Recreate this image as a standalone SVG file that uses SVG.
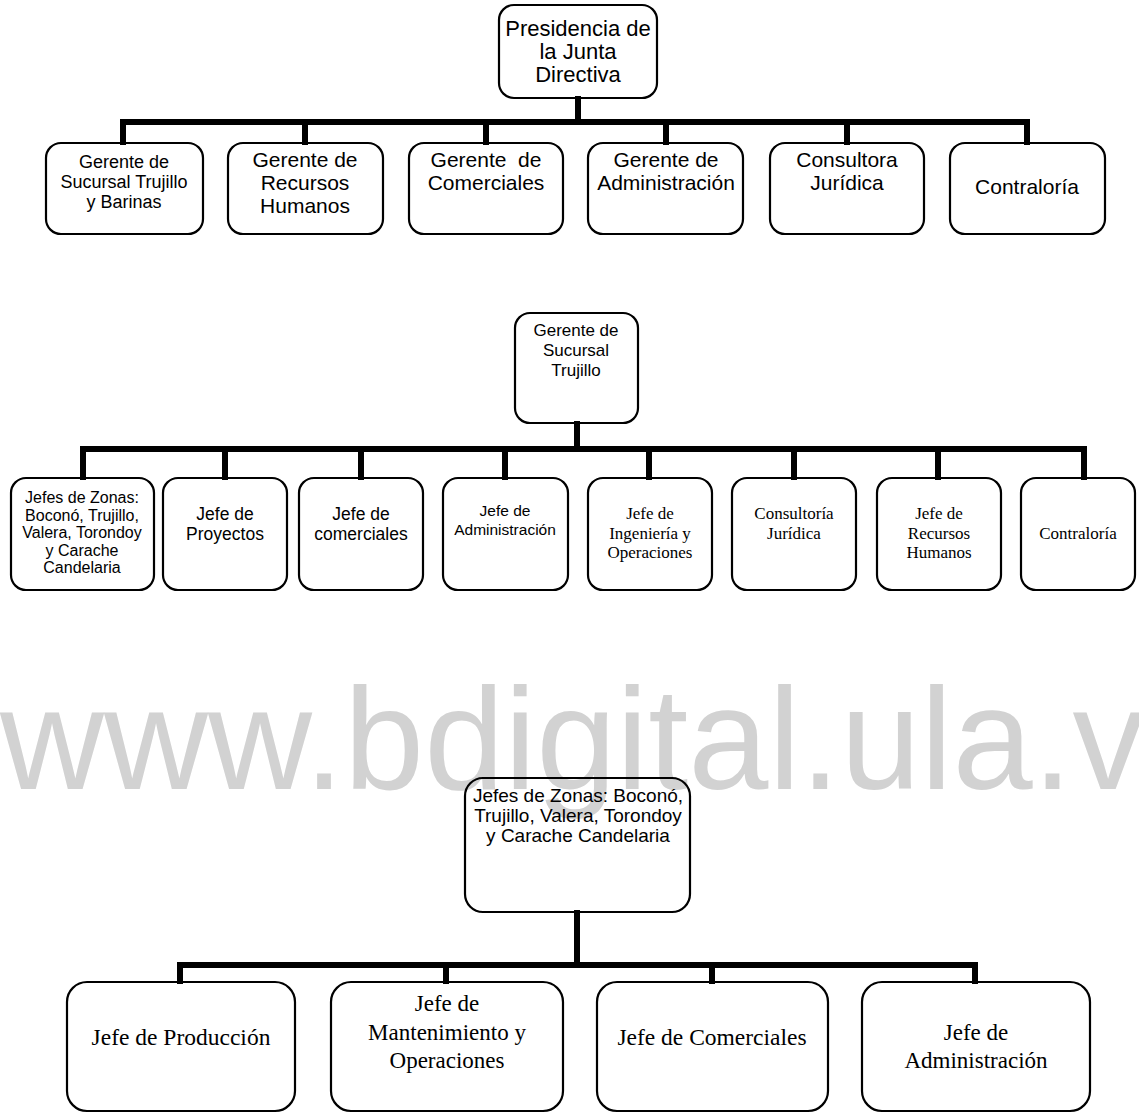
<svg xmlns="http://www.w3.org/2000/svg" width="1139" height="1115" viewBox="0 0 1139 1115">
<style>
.box{fill:none;stroke:#000;stroke-width:2.2}
.s{font-family:"Liberation Sans",Arial,sans-serif;fill:#000;text-anchor:middle}
.r{font-family:"Liberation Serif","Times New Roman",serif;fill:#000;text-anchor:middle}
.c{fill:none;stroke:#000;stroke-width:6;stroke-linecap:square}
.wm{font-family:"Liberation Sans",Arial,sans-serif;fill:#d2d2d2;font-size:144px}
</style>
<rect width="1139" height="1115" fill="#fff"/>
<text class="wm" x="0" y="789">www.bdigital.ula.v</text>

<g id="connectors">
  <path class="c" d="M578 99V122M123 122H1027M123 122V142M305 122V142M486 122V142M666 122V142M847 122V142M1027 122V142"/>
  <path class="c" d="M577 424V449M83 449H1084M83 449V477M225 449V477M361 449V477M505 449V477M649 449V477M794 449V477M938 449V477M1084 449V477"/>
  <path class="c" d="M577 913V965M180 965H975M180 965V981M446 965V981M712 965V981M975 965V981"/>
</g>

<g id="n-presidencia"><rect class="box" x="499" y="5" width="158" height="93" rx="15"/>
<text class="s" font-size="22"><tspan x="578" y="36">Presidencia de</tspan><tspan x="578" y="59">la Junta</tspan><tspan x="578" y="82">Directiva</tspan></text></g>

<g id="n-g-sucursal"><rect class="box" x="46" y="143" width="157" height="91" rx="15"/>
<text class="s" font-size="18"><tspan x="124" y="168">Gerente de</tspan><tspan x="124" y="188">Sucursal Trujillo</tspan><tspan x="124" y="208">y Barinas</tspan></text></g>
<g id="n-g-rrhh"><rect class="box" x="228" y="143" width="155" height="91" rx="15"/>
<text class="s" font-size="21"><tspan x="305" y="167">Gerente de</tspan><tspan x="305" y="190">Recursos</tspan><tspan x="305" y="213">Humanos</tspan></text></g>
<g id="n-g-comerciales"><rect class="box" x="409" y="143" width="154" height="91" rx="15"/>
<text class="s" font-size="21"><tspan x="486" y="167" xml:space="preserve">Gerente  de</tspan><tspan x="486" y="190">Comerciales</tspan></text></g>
<g id="n-g-admin"><rect class="box" x="588" y="143" width="155" height="91" rx="15"/>
<text class="s" font-size="21"><tspan x="666" y="167">Gerente de</tspan><tspan x="666" y="190">Administración</tspan></text></g>
<g id="n-consultora"><rect class="box" x="770" y="143" width="154" height="91" rx="15"/>
<text class="s" font-size="21"><tspan x="847" y="167">Consultora</tspan><tspan x="847" y="190">Jurídica</tspan></text></g>
<g id="n-contraloria1"><rect class="box" x="950" y="143" width="155" height="91" rx="15"/>
<text class="s" font-size="21" x="1027" y="194">Contraloría</text></g>

<g id="n-gerente-trujillo"><rect class="box" x="515" y="313" width="123" height="110" rx="15"/>
<text class="s" font-size="17"><tspan x="576" y="336">Gerente de</tspan><tspan x="576" y="356">Sucursal</tspan><tspan x="576" y="376">Trujillo</tspan></text></g>

<g id="n-jefes-zonas"><rect class="box" x="11" y="478" width="143" height="112" rx="15"/>
<text class="s" font-size="16"><tspan x="82" y="503">Jefes de Zonas:</tspan><tspan x="82" y="520.5">Boconó, Trujillo,</tspan><tspan x="82" y="538">Valera, Torondoy</tspan><tspan x="82" y="555.5">y Carache</tspan><tspan x="82" y="573">Candelaria</tspan></text></g>
<g id="n-proyectos"><rect class="box" x="163" y="478" width="124" height="112" rx="15"/>
<text class="s" font-size="17.5"><tspan x="225" y="520">Jefe de</tspan><tspan x="225" y="540">Proyectos</tspan></text></g>
<g id="n-comerciales2"><rect class="box" x="299" y="478" width="124" height="112" rx="15"/>
<text class="s" font-size="17.5"><tspan x="361" y="520">Jefe de</tspan><tspan x="361" y="540">comerciales</tspan></text></g>
<g id="n-admin2"><rect class="box" x="443" y="478" width="125" height="112" rx="15"/>
<text class="s" font-size="15.5"><tspan x="505" y="516">Jefe de</tspan><tspan x="505" y="535">Administración</tspan></text></g>
<g id="n-ingenieria"><rect class="box" x="588" y="478" width="124" height="112" rx="15"/>
<text class="r" font-size="17"><tspan x="650" y="519">Jefe de</tspan><tspan x="650" y="539">Ingeniería y</tspan><tspan x="650" y="558">Operaciones</tspan></text></g>
<g id="n-consultoria"><rect class="box" x="732" y="478" width="124" height="112" rx="15"/>
<text class="r" font-size="17"><tspan x="794" y="519">Consultoría</tspan><tspan x="794" y="539">Jurídica</tspan></text></g>
<g id="n-rrhh2"><rect class="box" x="877" y="478" width="124" height="112" rx="15"/>
<text class="r" font-size="17"><tspan x="939" y="519">Jefe de</tspan><tspan x="939" y="539">Recursos</tspan><tspan x="939" y="558">Humanos</tspan></text></g>
<g id="n-contraloria2"><rect class="box" x="1021" y="478" width="114" height="112" rx="15"/>
<text class="r" font-size="17" x="1078" y="539">Contraloría</text></g>

<g id="n-jefes-zonas-top"><rect class="box" x="465" y="778" width="225" height="134" rx="18"/>
<text class="s" font-size="19"><tspan x="578" y="802">Jefes de Zonas: Boconó,</tspan><tspan x="578" y="822">Trujillo, Valera, Torondoy</tspan><tspan x="578" y="842">y Carache Candelaria</tspan></text></g>

<g id="n-produccion"><rect class="box" x="67" y="982" width="228" height="129" rx="20"/>
<text class="r" font-size="23.5" x="181" y="1045">Jefe de Producción</text></g>
<g id="n-mantenimiento"><rect class="box" x="331" y="982" width="232" height="129" rx="20"/>
<text class="r" font-size="23"><tspan x="447" y="1011">Jefe de</tspan><tspan x="447" y="1040">Mantenimiento y</tspan><tspan x="447" y="1068">Operaciones</tspan></text></g>
<g id="n-comerciales3"><rect class="box" x="597" y="982" width="231" height="129" rx="20"/>
<text class="r" font-size="23.5" x="712" y="1045">Jefe de Comerciales</text></g>
<g id="n-admin3"><rect class="box" x="862" y="982" width="228" height="129" rx="20"/>
<text class="r" font-size="23"><tspan x="976" y="1040">Jefe de</tspan><tspan x="976" y="1068">Administración</tspan></text></g>
</svg>
